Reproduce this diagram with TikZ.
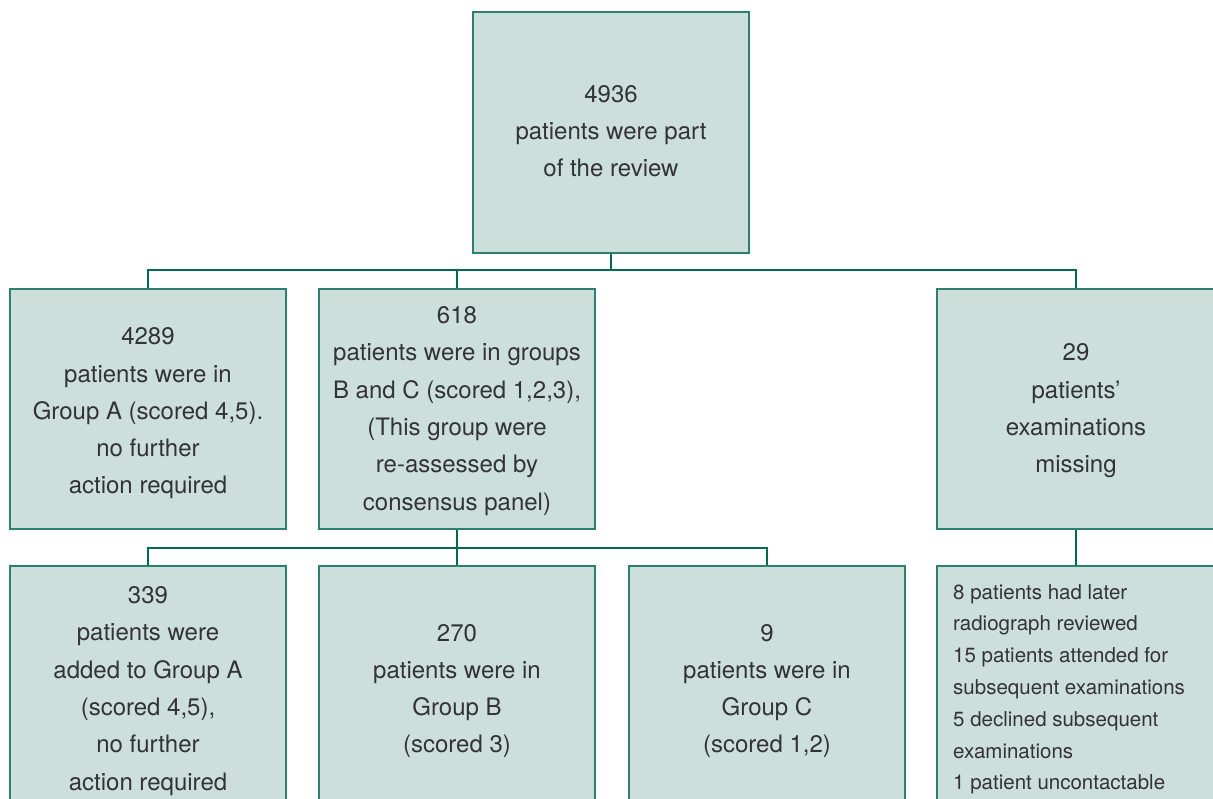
\documentclass[tikz,border=0pt]{standalone}
\usepackage{fontspec}
\setmainfont{TeX Gyre Heros}
\definecolor{boxfill}{HTML}{CCDFDA}
\definecolor{boxline}{HTML}{2E7F6F}
\definecolor{connc}{HTML}{006B55}
\definecolor{txt}{HTML}{333333}
\newcommand\pushdown[1]{\rule{0pt}{#1}}
\begin{document}
\begin{tikzpicture}[x=1pt,y=-1pt,
  box/.style={draw=boxline, fill=boxfill, line width=1.4pt, minimum width=276pt,
    inner sep=0pt, align=center, text=txt, font=\fontsize{24}{37.3}\selectfont},
  conn/.style={draw=connc, line width=1.3pt},
  listtext/.style={inner sep=0pt, align=left, text=txt, anchor=north west,
    font=\fontsize{20.5}{31.8}\selectfont}]
\clip (0,0) rectangle (1213,798);
\node[box, minimum height=241pt] (top) at (611,132.5) {4936\\patients were part\\of the review\rule[-3pt]{0pt}{3pt}};
\node[box, minimum height=240pt] (A) at (148,409) {\pushdown{26pt}4289\\patients were in\\Group A (scored 4,5).\\no further\\action required};
\node[box, minimum height=240pt] (B) at (457,409) {\pushdown{21pt}618\\patients were in groups\\B and C (scored 1,2,3),\\(This group were\\re-assessed by\\consensus panel)};
\node[box, minimum height=240pt, minimum width=278pt] (R) at (1076,409) {\pushdown{21pt}29\\patients’\\examinations\\missing};
\node[box, minimum height=244pt] (BA) at (148,688) {\pushdown{23pt}339\\patients were\\added to Group A\\(scored 4,5),\\no further\\action required};
\node[box, minimum height=244pt] (BB) at (457,688) {\pushdown{23pt}270\\patients were in\\Group B\\(scored 3)};
\node[box, minimum height=244pt] (BC) at (767,688) {\pushdown{23pt}9\\patients were in\\Group C\\(scored 1,2)};
\node[box, minimum height=244pt, minimum width=278pt] (BR) at (1076,688) {};
\node[listtext] (BRt) at (953,584) {8 patients had later\\radiograph reviewed\\15 patients attended for\\subsequent examinations\\5 declined subsequent\\examinations\\1 patient uncontactable};
\coordinate (bus1) at (0,270);
\coordinate (bus2) at (0,548);
\draw[conn] (top.south) -- (top.south |- bus1);
\draw[conn] (A.north) -- (A.north |- bus1) -- (R.north |- bus1) -- (R.north);
\draw[conn] (B.north) -- (B.north |- bus1);
\draw[conn] (B.south) -- (B.south |- bus2);
\draw[conn] (BA.north) -- (BA.north |- bus2) -- (BC.north |- bus2) -- (BC.north);
\draw[conn] (BB.north) -- (BB.north |- bus2);
\draw[conn] (R.south) -- (BR.north);
\end{tikzpicture}
\end{document}
